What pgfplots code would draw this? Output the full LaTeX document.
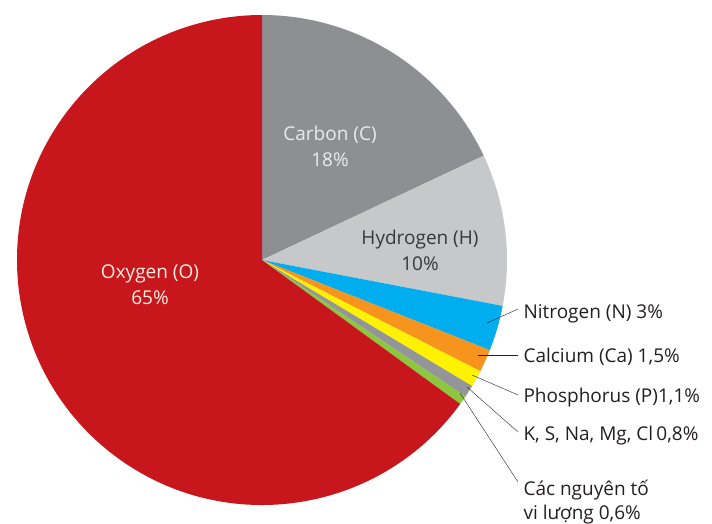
\documentclass[border=0pt]{standalone}
\usepackage{pgfplots}
\pgfplotsset{compat=1.18}
\usepackage{pgfplotstable}
\usepackage{fontspec}
\setmainfont{Open Sans}

\definecolor{oxy}{HTML}{C8161D}
\definecolor{carb}{HTML}{8E8F92}
\definecolor{hydro}{HTML}{C7C8CA}
\definecolor{nitro}{HTML}{00AEEF}
\definecolor{calc}{HTML}{F7941D}
\definecolor{phos}{HTML}{FFF200}
\definecolor{ksna}{HTML}{939598}
\definecolor{trace}{HTML}{8DC63F}
\definecolor{txt}{HTML}{231F20}

% share of body mass, in %, clockwise from 12 o'clock
\pgfplotstableread[col sep=comma]{
element,pct,colour
Carbon,18,carb
Hydrogen,10,hydro
Nitrogen,3,nitro
Calcium,1.5,calc
Phosphorus,1.1,phos
KSNaMgCl,0.8,ksna
Trace,0.6,trace
Oxygen,65,oxy
}\piedata

\begin{document}
\begin{tikzpicture}
\begin{axis}[
    x=1pt, y=1pt,
    xmin=0, xmax=712, ymin=0, ymax=523,
    y dir=reverse,
    hide axis, clip=false,
    scale only axis,
]
\path (axis cs:0,0) rectangle (axis cs:712,523);

% wedges as overlay, so the arcs' control points do not widen the page
\pgfplotstablegetrowsof{\piedata}
\pgfmathtruncatemacro\lastrow{\pgfplotsretval-1}
\xdef\angA{90}
\pgfplotsinvokeforeach{0,...,\lastrow}{%
  \pgfplotstablegetelem{#1}{pct}\of\piedata \let\pct\pgfplotsretval
  \pgfplotstablegetelem{#1}{colour}\of\piedata \let\col\pgfplotsretval
  \pgfmathsetmacro\angB{\angA-3.6*\pct}
  \edef\temp{\noexpand\fill[\col, overlay] (axis cs:262,260) -- ++(\angA:245pt)
    arc[start angle=\angA, end angle=\angB, radius=245pt] -- cycle;}
  \temp
  \xdef\angA{\angB}
}

\begin{scope}[overlay, font=\fontsize{19}{26}\selectfont]
\node[align=center, text=white!92!black] at (axis cs:330,146) {Carbon (C)\\18\%};
\node[align=center, text=black!78] at (axis cs:420,250) {Hydrogen (H)\\10\%};
\node[align=center, text=white!88!orange] at (axis cs:150,285) {Oxygen (O)\\65\%};

\draw[txt, thin] (axis cs:487,323) -- (axis cs:518,309);
\draw[txt, thin] (axis cs:478,355) -- (axis cs:518,355);
\draw[txt, thin] (axis cs:472,375) -- (axis cs:518,395);
\draw[txt, thin] (axis cs:467,387) -- (axis cs:518,432);
\draw[txt, thin] (axis cs:460,393) -- (axis cs:518,482);

\node[anchor=base west, text=txt] at (axis cs:520,318) {Nitrogen (N) 3\%};
\node[anchor=base west, text=txt] at (axis cs:520,362) {Calcium (Ca) 1,5\%};
\node[anchor=base west, text=txt] at (axis cs:520,402) {Phosphorus (P)1,1\%};
\node[anchor=base west, text=txt] at (axis cs:520,440) {K, S, Na, Mg, Cl\,0,8\%};
\node[anchor=base west, text=txt] at (axis cs:520,495) {Các nguyên tố};
\node[anchor=base west, text=txt] at (axis cs:520,519) {vi lượng 0,6\%};
\end{scope}
\end{axis}
\end{tikzpicture}
\end{document}
